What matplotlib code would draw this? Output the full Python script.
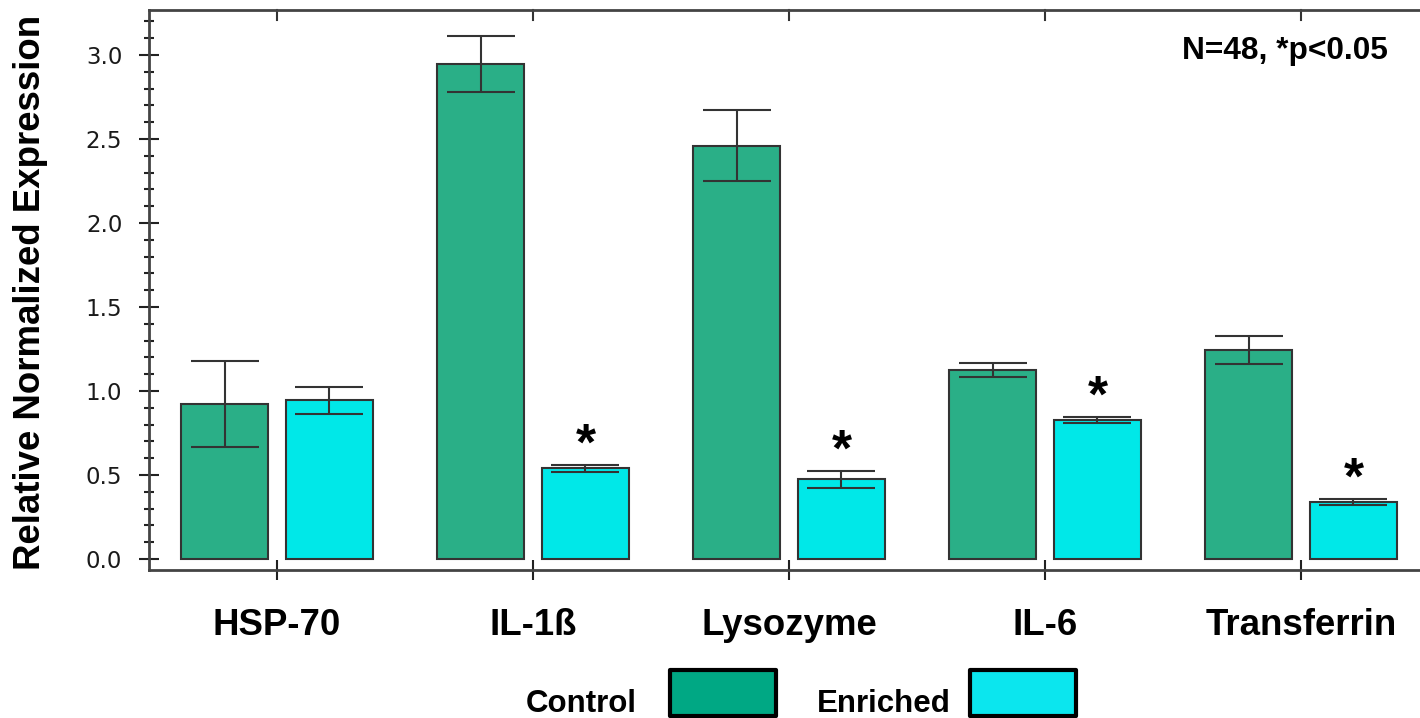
import numpy as np
import matplotlib.pyplot as plt
from matplotlib.patches import Rectangle
from matplotlib.ticker import MultipleLocator

genes = ['HSP-70', 'IL-1ß', 'Lysozyme', 'IL-6', 'Transferrin']
control = [0.92, 2.946, 2.46, 1.125, 1.245]
control_err = [0.256, 0.167, 0.21, 0.042, 0.084]
enriched = [0.945, 0.539, 0.475, 0.828, 0.341]
enriched_err = [0.08, 0.021, 0.05, 0.018, 0.018]
significant = [False, True, True, True, True]

green = '#2AAF87'
cyan = '#00E8E8'
edge = '#333333'

plt.rcParams['font.family'] = 'Liberation Sans'

fig = plt.figure(figsize=(14.2, 7.18), dpi=100)
ax = fig.add_axes([149 / 1420, 148 / 718, 1280 / 1420, 560 / 718])

x = np.arange(len(genes))
width = 0.34
offset = 0.205

ax.bar(x - offset, control, width, color=green, edgecolor=edge, linewidth=1.5, zorder=2)
ax.bar(x + offset, enriched, width, color=cyan, edgecolor=edge, linewidth=1.5, zorder=2)
ax.errorbar(x - offset, control, yerr=control_err, fmt='none', ecolor=edge,
            elinewidth=1.5, capsize=24.5, capthick=1.5, zorder=3)
ax.errorbar(x + offset, enriched, yerr=enriched_err, fmt='none', ecolor=edge,
            elinewidth=1.5, capsize=24.5, capthick=1.5, zorder=3)

# significance stars over the enriched bars
for xi, v, e, s in zip(x, enriched, enriched_err, significant):
    if s:
        ax.annotate('*', xy=(xi + offset, v + e), xytext=(0, 4), textcoords='offset points',
                    ha='center', va='baseline', fontsize=37, fontweight='bold', color='black')

ax.set_xlim(-0.5, 4.5)
ax.set_ylim(-0.0655, 3.268)

ax.yaxis.set_major_locator(MultipleLocator(0.5))
ax.yaxis.set_minor_locator(MultipleLocator(0.1))
ax.set_yticks(np.arange(0, 3.01, 0.5))
ax.set_yticklabels(['%.1f' % t for t in np.arange(0, 3.01, 0.5)],
                   fontfamily='DejaVu Sans', fontsize=16.5, color='#1a1a1a')
ax.tick_params(axis='y', which='major', direction='inout', length=14.4, width=1.5,
               color='#222222', pad=12, right=False)
ax.tick_params(axis='y', which='minor', direction='inout', length=7.2, width=1.5,
               color='#222222', right=False)

ax.set_xticks(x)
ax.set_xticklabels(genes, fontsize=26.4, fontweight='bold')
ax.tick_params(axis='x', which='major', direction='inout', length=14.4, width=1.5,
               color='#222222', pad=20.5, top=False)
for xi in x:
    ax.plot([xi, xi], [1, 0.982], transform=ax.get_xaxis_transform(), color='#333333',
            linewidth=1.5, clip_on=False)

for side in ['left', 'bottom', 'top']:
    ax.spines[side].set_color('#444444')
    ax.spines[side].set_linewidth(2)
ax.spines['right'].set_visible(False)

ax.text(-0.0922, 0.495, 'Relative Normalized Expression', transform=ax.transAxes,
        rotation=90, ha='center', va='center', fontsize=26.4, fontweight='bold')
ax.text(4.34, 3.023, 'N=48, *p<0.05', ha='right', va='center', fontsize=22.8,
        fontweight='bold')

# legend drawn underneath the axis
fig.text(637 / 1420, 1 - 712 / 718, 'Control', ha='right', va='baseline',
         fontsize=22.5, fontweight='bold')
fig.text(951 / 1420, 1 - 712 / 718, 'Enriched', ha='right', va='baseline',
         fontsize=22.5, fontweight='bold')
for x0, c in [(670, '#00A884'), (970, '#0BE6EE')]:
    fig.add_artist(Rectangle((x0 / 1420, 1 - 716 / 718), 106 / 1420, 46 / 718,
                             transform=fig.transFigure, facecolor=c, edgecolor='black',
                             linewidth=3, joinstyle='round', clip_on=False))

fig.savefig('out.png', dpi=100)
